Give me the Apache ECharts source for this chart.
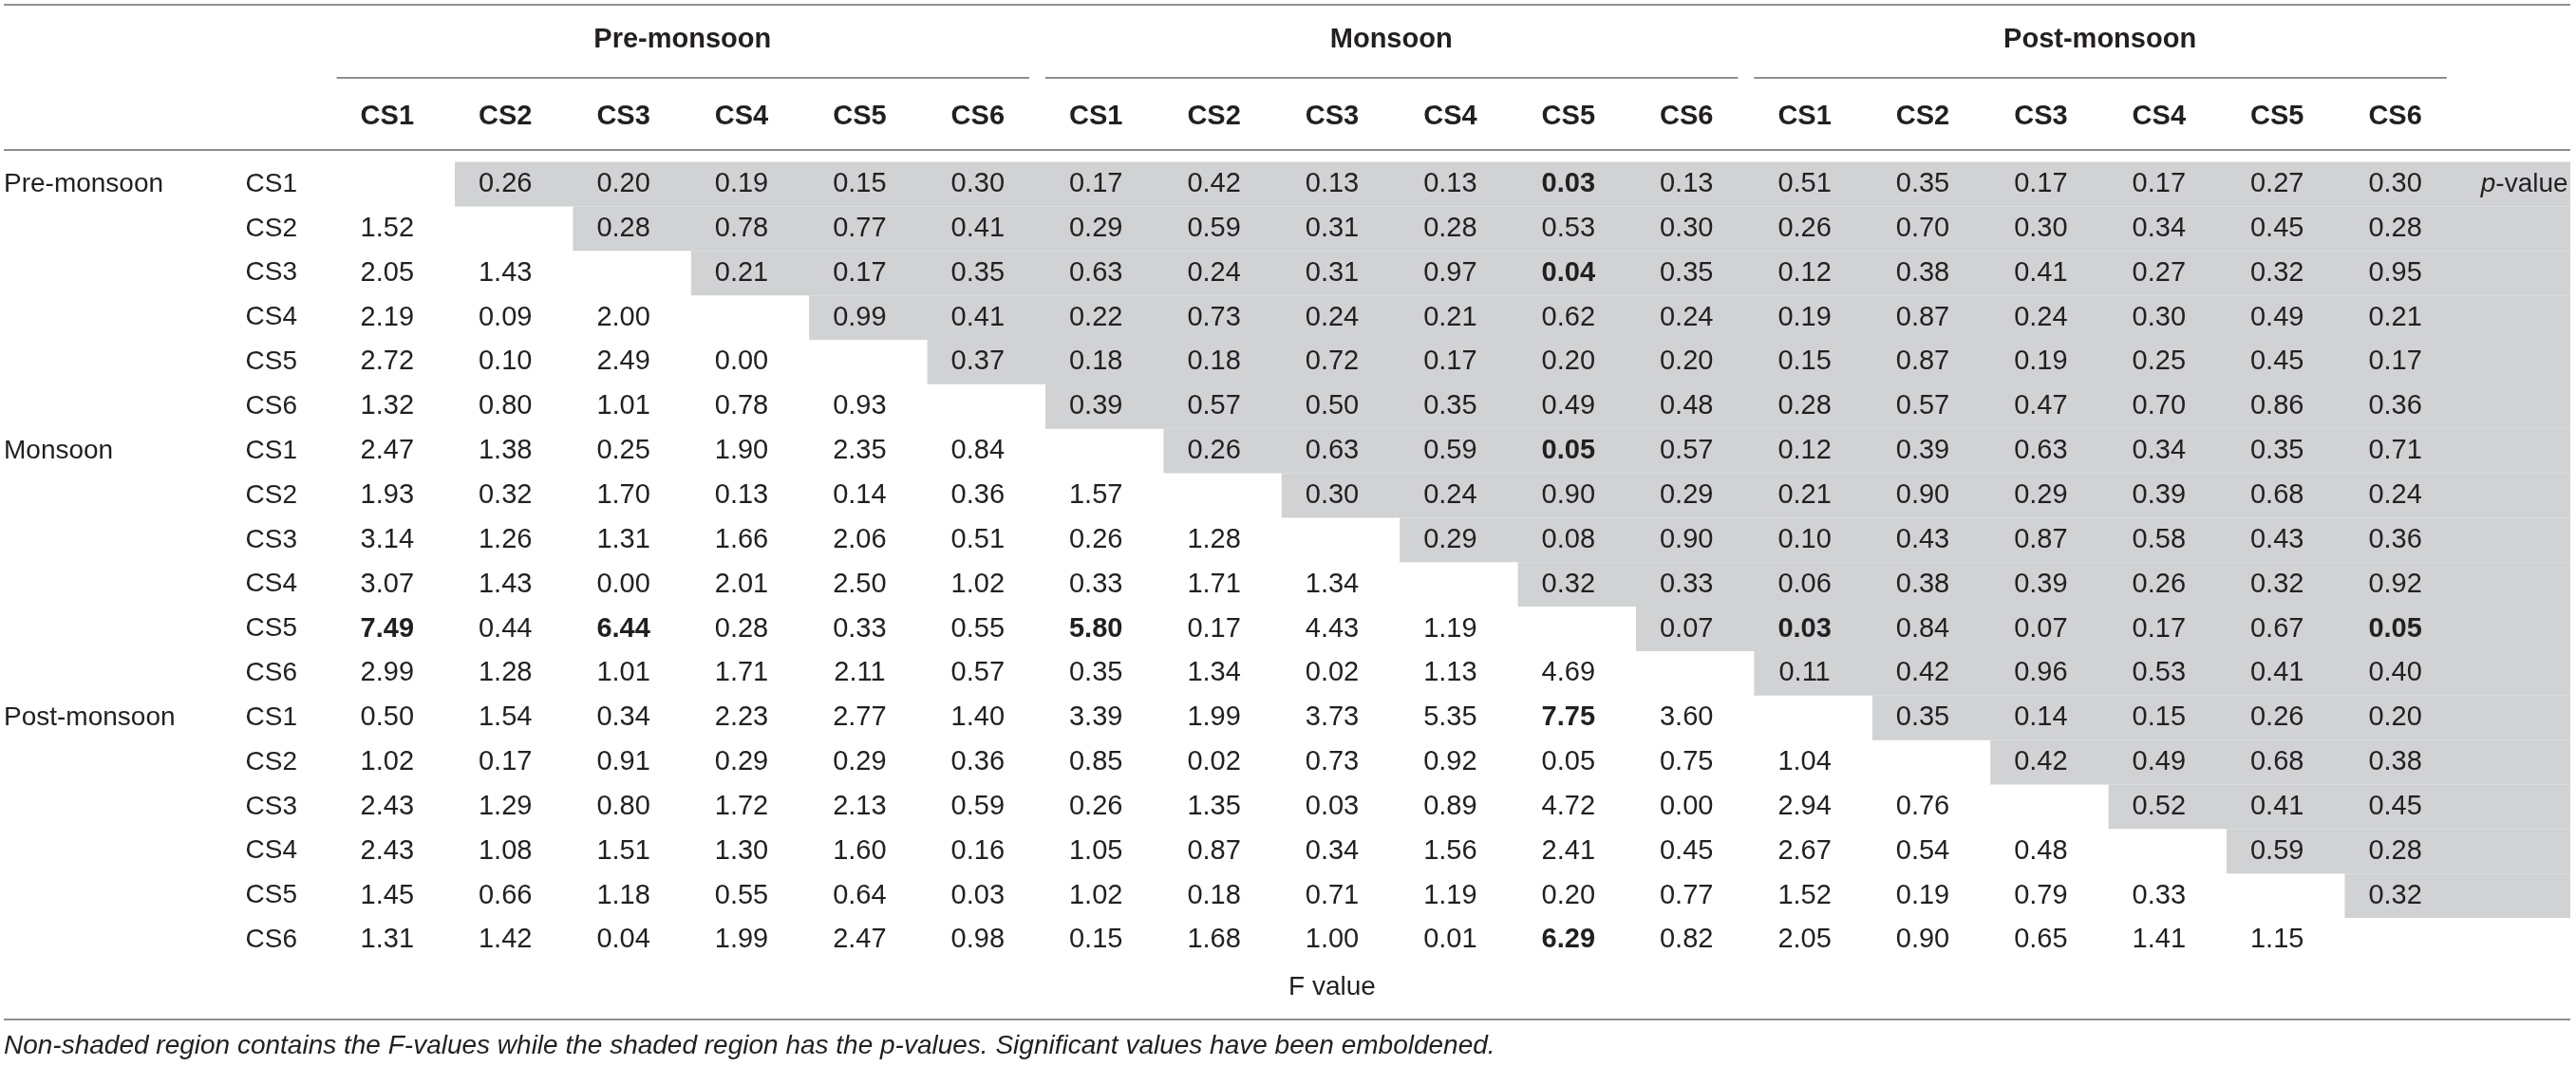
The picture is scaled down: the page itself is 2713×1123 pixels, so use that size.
<!DOCTYPE html>
<html>
<head>
<meta charset="utf-8">
<script src="https://cdn.jsdelivr.net/npm/echarts@6/dist/echarts.min.js"></script>
<style>
html, body {margin: 0; padding: 0; background: #fff;}
#chart {width: 2713px; height: 1123px;}
</style>
</head>
<body>
<div id="chart"></div>
<script>
const seasons = ['Pre-monsoon', 'Monsoon', 'Post-monsoon'];
const sites = ['CS1', 'CS2', 'CS3', 'CS4', 'CS5', 'CS6'];

// lower triangle = F values, upper triangle = p-values, null = diagonal
const preCS1 = [null, 0.26, 0.20, 0.19, 0.15, 0.30, 0.17, 0.42, 0.13, 0.13, 0.03, 0.13, 0.51, 0.35, 0.17, 0.17, 0.27, 0.30];
const preCS2 = [1.52, null, 0.28, 0.78, 0.77, 0.41, 0.29, 0.59, 0.31, 0.28, 0.53, 0.30, 0.26, 0.70, 0.30, 0.34, 0.45, 0.28];
const preCS3 = [2.05, 1.43, null, 0.21, 0.17, 0.35, 0.63, 0.24, 0.31, 0.97, 0.04, 0.35, 0.12, 0.38, 0.41, 0.27, 0.32, 0.95];
const preCS4 = [2.19, 0.09, 2.00, null, 0.99, 0.41, 0.22, 0.73, 0.24, 0.21, 0.62, 0.24, 0.19, 0.87, 0.24, 0.30, 0.49, 0.21];
const preCS5 = [2.72, 0.10, 2.49, 0.00, null, 0.37, 0.18, 0.18, 0.72, 0.17, 0.20, 0.20, 0.15, 0.87, 0.19, 0.25, 0.45, 0.17];
const preCS6 = [1.32, 0.80, 1.01, 0.78, 0.93, null, 0.39, 0.57, 0.50, 0.35, 0.49, 0.48, 0.28, 0.57, 0.47, 0.70, 0.86, 0.36];
const monCS1 = [2.47, 1.38, 0.25, 1.90, 2.35, 0.84, null, 0.26, 0.63, 0.59, 0.05, 0.57, 0.12, 0.39, 0.63, 0.34, 0.35, 0.71];
const monCS2 = [1.93, 0.32, 1.70, 0.13, 0.14, 0.36, 1.57, null, 0.30, 0.24, 0.90, 0.29, 0.21, 0.90, 0.29, 0.39, 0.68, 0.24];
const monCS3 = [3.14, 1.26, 1.31, 1.66, 2.06, 0.51, 0.26, 1.28, null, 0.29, 0.08, 0.90, 0.10, 0.43, 0.87, 0.58, 0.43, 0.36];
const monCS4 = [3.07, 1.43, 0.00, 2.01, 2.50, 1.02, 0.33, 1.71, 1.34, null, 0.32, 0.33, 0.06, 0.38, 0.39, 0.26, 0.32, 0.92];
const monCS5 = [7.49, 0.44, 6.44, 0.28, 0.33, 0.55, 5.80, 0.17, 4.43, 1.19, null, 0.07, 0.03, 0.84, 0.07, 0.17, 0.67, 0.05];
const monCS6 = [2.99, 1.28, 1.01, 1.71, 2.11, 0.57, 0.35, 1.34, 0.02, 1.13, 4.69, null, 0.11, 0.42, 0.96, 0.53, 0.41, 0.40];
const postCS1 = [0.50, 1.54, 0.34, 2.23, 2.77, 1.40, 3.39, 1.99, 3.73, 5.35, 7.75, 3.60, null, 0.35, 0.14, 0.15, 0.26, 0.20];
const postCS2 = [1.02, 0.17, 0.91, 0.29, 0.29, 0.36, 0.85, 0.02, 0.73, 0.92, 0.05, 0.75, 1.04, null, 0.42, 0.49, 0.68, 0.38];
const postCS3 = [2.43, 1.29, 0.80, 1.72, 2.13, 0.59, 0.26, 1.35, 0.03, 0.89, 4.72, 0.00, 2.94, 0.76, null, 0.52, 0.41, 0.45];
const postCS4 = [2.43, 1.08, 1.51, 1.30, 1.60, 0.16, 1.05, 0.87, 0.34, 1.56, 2.41, 0.45, 2.67, 0.54, 0.48, null, 0.59, 0.28];
const postCS5 = [1.45, 0.66, 1.18, 0.55, 0.64, 0.03, 1.02, 0.18, 0.71, 1.19, 0.20, 0.77, 1.52, 0.19, 0.79, 0.33, null, 0.32];
const postCS6 = [1.31, 1.42, 0.04, 1.99, 2.47, 0.98, 0.15, 1.68, 1.00, 0.01, 6.29, 0.82, 2.05, 0.90, 0.65, 1.41, 1.15, null];

// [row, col] of the emboldened (significant) values
const significant = [[0, 10], [2, 10], [6, 10], [10, 0], [10, 2], [10, 6], [10, 12], [10, 17], [12, 10], [17, 10]];

const footnote = 'Non-shaded region contains the F-values while the shaded region has the p-values. Significant values have been emboldened.';

const matrix = [preCS1, preCS2, preCS3, preCS4, preCS5, preCS6,
    monCS1, monCS2, monCS3, monCS4, monCS5, monCS6,
    postCS1, postCS2, postCS3, postCS4, postCS5, postCS6];

const FONT = '"Liberation Sans", Arial, Helvetica, sans-serif';
const INK = '#231f20';
const SHADE = '#d1d2d4';
const RULE = '#8f8f8f';
const TEXT_SHIFT = -9;

const rowLabels = seasons.flatMap(() => sites);
const colLabels = seasons.flatMap(() => sites);

const cellData = [];
const cellText = [];
const cellBold = [];
matrix.forEach((row, r) => row.forEach((v, c) => {
    if (v == null) {
        return;
    }
    cellData.push([c, r]);
    cellText.push(v.toFixed(2));
    cellBold.push(significant.some(([sr, sc]) => sr === r && sc === c));
}));

// shaded upper triangle, one strip per row, starting right of the diagonal
const shadeData = matrix.slice(0, -1).map((row, r) => [r + 1, r]);

const chart = echarts.init(document.getElementById('chart'), null, {renderer: 'canvas'});

function txt(x, y, text, opts = {}) {
    return {
        type: 'text',
        x, y,
        style: Object.assign({
            text,
            fill: INK,
            fontFamily: FONT,
            fontSize: 29,
            fontWeight: 'normal',
            align: 'center',
            verticalAlign: 'middle',
        }, opts),
    };
}

chart.setOption({
    animation: false,
    grid: {left: 354.6, top: 170.6, width: 2352.4, height: 843.3},
    xAxis: {type: 'value', min: -0.5, max: 18.41, show: false},
    yAxis: {
        type: 'category',
        data: rowLabels,
        inverse: true,
        axisLine: {show: false},
        axisTick: {show: false},
        splitLine: {show: false},
        axisLabel: {
            interval: 0,
            align: 'left',
            margin: 96,
            color: INK,
            fontFamily: FONT,
            fontSize: 28,
        },
    },
    series: [{
        type: 'custom',
        name: 'shade',
        silent: true,
        data: shadeData,
        renderItem(params, api) {
            const cs = params.coordSys;
            const p = api.coord([api.value(0) - 0.5, api.value(1)]);
            const h = api.size([0, 1])[1];
            return {
                type: 'rect',
                shape: {x: p[0], y: p[1] - h / 2, width: cs.x + cs.width - p[0], height: h},
                style: {fill: SHADE},
            };
        },
    }, {
        type: 'custom',
        name: 'cells',
        silent: true,
        data: cellData,
        renderItem(params, api) {
            const p = api.coord([api.value(0), api.value(1)]);
            const i = params.dataIndex;
            return txt(p[0] + TEXT_SHIFT, p[1], cellText[i], {fontWeight: cellBold[i] ? 'bold' : 'normal'});
        },
    }, {
        type: 'custom',
        name: 'colHeaders',
        silent: true,
        data: colLabels.map((l, c) => [c, 0]),
        renderItem(params, api) {
            const p = api.coord([api.value(0), 0]);
            return txt(p[0] + TEXT_SHIFT, p[1] - 71, colLabels[params.dataIndex], {fontWeight: 'bold'});
        },
    }, {
        type: 'custom',
        name: 'groupHeaders',
        silent: true,
        data: seasons.map((s, g) => [g * 6, 0]),
        renderItem(params, api) {
            const g = params.dataIndex;
            const a = api.coord([g * 6 - 0.5, 0]);
            const b = api.coord([g * 6 + 5.5, 0]);
            const c0 = api.coord([g * 6, 0]);
            const c5 = api.coord([g * 6 + 5, 0]);
            return {
                type: 'group',
                children: [
                    txt((c0[0] + c5[0]) / 2 + TEXT_SHIFT, a[1] - 152, seasons[g], {fontWeight: 'bold'}),
                    {
                        type: 'line',
                        shape: {x1: a[0], y1: a[1] - 112, x2: b[0] - 17, y2: a[1] - 112},
                        style: {stroke: RULE, lineWidth: 2},
                    },
                ],
            };
        },
    }, {
        type: 'custom',
        name: 'rowGroups',
        silent: true,
        data: seasons.map((s, g) => [0, g * 6]),
        renderItem(params, api) {
            const cs = params.coordSys;
            const p = api.coord([0, api.value(1)]);
            return txt(cs.x - 350.6, p[1], seasons[params.dataIndex], {align: 'left', fontSize: 28});
        },
    }, {
        type: 'custom',
        name: 'notes',
        silent: true,
        data: [[17.5, 0], [8, matrix.length - 1]],
        renderItem(params, api) {
            const p = api.coord([api.value(0), api.value(1)]);
            if (params.dataIndex === 0) {
                return txt(p[0] + 19, p[1], '{i|p}-value', {
                    align: 'left',
                    fontSize: 28,
                    rich: {i: {fontStyle: 'italic', fontFamily: FONT, fontSize: 28, fill: INK}},
                });
            }
            return txt(p[0] + TEXT_SHIFT, p[1] + 50, 'F value', {fontSize: 28});
        },
    }],
    graphic: [
        {type: 'line', shape: {x1: 4, y1: 5, x2: 2707, y2: 5}, style: {stroke: RULE, lineWidth: 2}},
        {type: 'line', shape: {x1: 4, y1: 158, x2: 2707, y2: 158}, style: {stroke: RULE, lineWidth: 2}},
        {type: 'line', shape: {x1: 4, y1: 1074, x2: 2707, y2: 1074}, style: {stroke: RULE, lineWidth: 2}},
        {
            type: 'text',
            x: 4, y: 1102,
            style: {
                text: footnote,
                fill: INK,
                fontFamily: FONT,
                fontSize: 28,
                fontStyle: 'italic',
                align: 'left',
                verticalAlign: 'middle',
            },
        },
    ],
});
</script>
</body>
</html>
